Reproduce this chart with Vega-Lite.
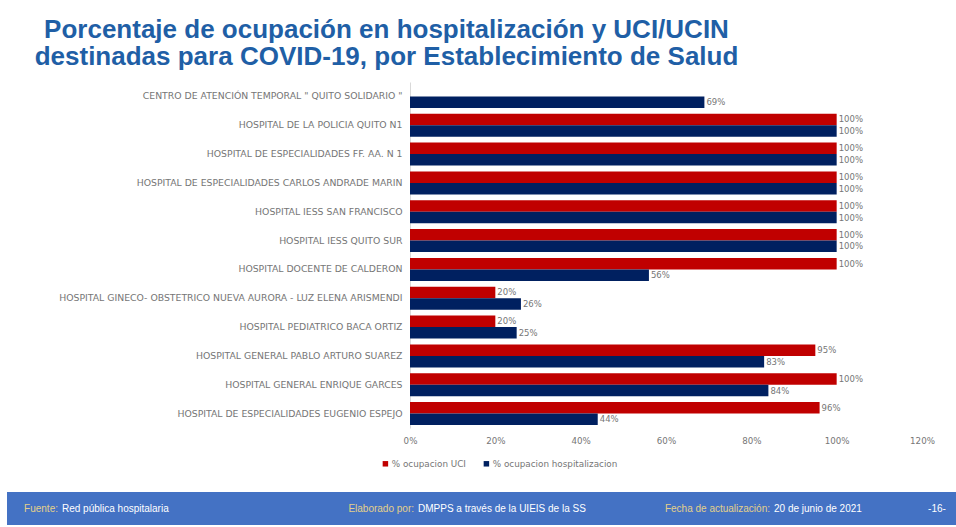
{
  "$schema": "https://vega.github.io/schema/vega-lite/v6.json",
  "autosize": {"type": "pad"},
  "padding": {"top": 17, "left": 7, "right": 0, "bottom": 0},
  "background": "white",
  "bounds": "flush",
  "spacing": 64,
  "config": {"view": {"stroke": null}, "font": "DejaVu Sans"},
  "datasets": {
    "ocupacion": [
      {"establecimiento": "CENTRO DE ATENCIÓN TEMPORAL \" QUITO SOLIDARIO \"", "serie": "% ocupacion hospitalizacion", "pct": 0.69},
      {"establecimiento": "HOSPITAL DE LA POLICIA QUITO N1", "serie": "% ocupacion UCI", "pct": 1.0},
      {"establecimiento": "HOSPITAL DE LA POLICIA QUITO N1", "serie": "% ocupacion hospitalizacion", "pct": 1.0},
      {"establecimiento": "HOSPITAL DE ESPECIALIDADES FF. AA. N 1", "serie": "% ocupacion UCI", "pct": 1.0},
      {"establecimiento": "HOSPITAL DE ESPECIALIDADES FF. AA. N 1", "serie": "% ocupacion hospitalizacion", "pct": 1.0},
      {"establecimiento": "HOSPITAL DE ESPECIALIDADES CARLOS ANDRADE MARIN", "serie": "% ocupacion UCI", "pct": 1.0},
      {"establecimiento": "HOSPITAL DE ESPECIALIDADES CARLOS ANDRADE MARIN", "serie": "% ocupacion hospitalizacion", "pct": 1.0},
      {"establecimiento": "HOSPITAL IESS SAN FRANCISCO", "serie": "% ocupacion UCI", "pct": 1.0},
      {"establecimiento": "HOSPITAL IESS SAN FRANCISCO", "serie": "% ocupacion hospitalizacion", "pct": 1.0},
      {"establecimiento": "HOSPITAL IESS QUITO SUR", "serie": "% ocupacion UCI", "pct": 1.0},
      {"establecimiento": "HOSPITAL IESS QUITO SUR", "serie": "% ocupacion hospitalizacion", "pct": 1.0},
      {"establecimiento": "HOSPITAL DOCENTE DE CALDERON", "serie": "% ocupacion UCI", "pct": 1.0},
      {"establecimiento": "HOSPITAL DOCENTE DE CALDERON", "serie": "% ocupacion hospitalizacion", "pct": 0.56},
      {"establecimiento": "HOSPITAL GINECO- OBSTETRICO NUEVA AURORA - LUZ ELENA ARISMENDI", "serie": "% ocupacion UCI", "pct": 0.20},
      {"establecimiento": "HOSPITAL GINECO- OBSTETRICO NUEVA AURORA - LUZ ELENA ARISMENDI", "serie": "% ocupacion hospitalizacion", "pct": 0.26},
      {"establecimiento": "HOSPITAL PEDIATRICO BACA ORTIZ", "serie": "% ocupacion UCI", "pct": 0.20},
      {"establecimiento": "HOSPITAL PEDIATRICO BACA ORTIZ", "serie": "% ocupacion hospitalizacion", "pct": 0.25},
      {"establecimiento": "HOSPITAL GENERAL PABLO ARTURO SUAREZ", "serie": "% ocupacion UCI", "pct": 0.95},
      {"establecimiento": "HOSPITAL GENERAL PABLO ARTURO SUAREZ", "serie": "% ocupacion hospitalizacion", "pct": 0.83},
      {"establecimiento": "HOSPITAL GENERAL ENRIQUE GARCES", "serie": "% ocupacion UCI", "pct": 1.0},
      {"establecimiento": "HOSPITAL GENERAL ENRIQUE GARCES", "serie": "% ocupacion hospitalizacion", "pct": 0.84},
      {"establecimiento": "HOSPITAL DE ESPECIALIDADES EUGENIO ESPEJO", "serie": "% ocupacion UCI", "pct": 0.96},
      {"establecimiento": "HOSPITAL DE ESPECIALIDADES EUGENIO ESPEJO", "serie": "% ocupacion hospitalizacion", "pct": 0.44}
    ],
    "pie": [
      {"item": "a", "etiqueta": "Fuente:", "valor": "Red pública hospitalaria"},
      {"item": "b", "etiqueta": "Elaborado  por:", "valor": "DMPPS a través de la UIEIS de la SS"},
      {"item": "c", "etiqueta": "Fecha de actualización:", "valor": "20 de junio de 2021"}
    ],
    "pagina": [
      {"item": "d", "valor": "-16-"}
    ]
  },
  "vconcat": [
    {
      "width": 949,
      "height": 346,
      "title": {
        "text": ["Porcentaje de ocupación en hospitalización y UCI/UCIN", "destinadas para COVID-19, por Establecimiento de Salud"],
        "anchor": "middle",
        "frame": "group",
        "dx": -95,
        "offset": 12,
        "font": "Liberation Sans",
        "fontSize": 26,
        "fontWeight": "bold",
        "lineHeight": 27,
        "color": "#1F5FA6"
      },
      "data": {"name": "ocupacion"},
      "encoding": {
        "y": {
          "field": "establecimiento",
          "type": "nominal",
          "sort": null,
          "scale": {"paddingInner": 0.2, "paddingOuter": 0.1},
          "axis": {
            "title": null,
            "offset": -403,
            "ticks": false,
            "domain": true,
            "domainColor": "#D9D9D9",
            "labelFont": "DejaVu Sans",
            "labelFontSize": 9.3,
            "labelColor": "#767676",
            "labelPadding": 8,
            "labelLimit": 0
          }
        },
        "yOffset": {
          "field": "serie",
          "type": "nominal",
          "sort": ["% ocupacion UCI", "% ocupacion hospitalizacion"],
          "scale": {"domain": ["% ocupacion UCI", "% ocupacion hospitalizacion"]}
        },
        "x": {
          "field": "pct",
          "type": "quantitative",
          "scale": {"domain": [0, 1.2], "range": [403, 915], "nice": false},
          "axis": {
            "title": null,
            "format": ".0%",
            "values": [0, 0.2, 0.4, 0.6, 0.8, 1.0, 1.2],
            "grid": false,
            "domain": false,
            "ticks": false,
            "labelFlush": false,
            "labelFont": "DejaVu Sans",
            "labelFontSize": 8.7,
            "labelColor": "#767676",
            "labelPadding": 8
          }
        }
      },
      "layer": [
        {
          "mark": {"type": "bar"},
          "encoding": {
            "color": {
              "field": "serie",
              "type": "nominal",
              "scale": {"domain": ["% ocupacion UCI", "% ocupacion hospitalizacion"], "range": ["#C00000", "#002060"]},
              "legend": {
                "title": null,
                "orient": "none",
                "direction": "horizontal",
                "legendX": 374,
                "legendY": 377,
                "symbolType": "square",
                "symbolSize": 30,
                "labelFont": "DejaVu Sans",
                "labelFontSize": 8.8,
                "labelColor": "#767676",
                "columnPadding": 16,
                "labelOffset": 2
              }
            }
          }
        },
        {
          "mark": {"type": "text", "align": "left", "baseline": "middle", "dx": 2, "fontSize": 8.5, "color": "#767676", "font": "DejaVu Sans"},
          "encoding": {
            "text": {"field": "pct", "type": "quantitative", "format": ".0%"}
          }
        }
      ]
    },
    {
      "width": 949,
      "height": 33,
      "view": {"fill": "#4472C4", "stroke": null},
      "resolve": {"scale": {"x": "independent"}},
      "layer": [
        {
          "data": {"name": "pie"},
          "mark": {"type": "text", "align": "right", "baseline": "middle", "dx": -1, "font": "Liberation Sans", "fontSize": 10, "color": "#E3D08A"},
          "encoding": {
            "x": {"field": "item", "type": "nominal", "scale": {"type": "point", "range": [52, 764], "padding": 0}, "axis": null},
            "text": {"field": "etiqueta"}
          }
        },
        {
          "data": {"name": "pie"},
          "mark": {"type": "text", "align": "left", "baseline": "middle", "dx": 3, "font": "Liberation Sans", "fontSize": 10, "color": "white"},
          "encoding": {
            "x": {"field": "item", "type": "nominal", "scale": {"type": "point", "range": [52, 764], "padding": 0}, "axis": null},
            "text": {"field": "valor"}
          }
        },
        {
          "data": {"name": "pagina"},
          "mark": {"type": "text", "align": "center", "baseline": "middle", "font": "Liberation Sans", "fontSize": 10, "color": "white"},
          "encoding": {
            "x": {"field": "item", "type": "nominal", "scale": {"type": "point", "range": [920, 940], "padding": 0}, "axis": null},
            "text": {"field": "valor"}
          }
        }
      ]
    }
  ]
}
